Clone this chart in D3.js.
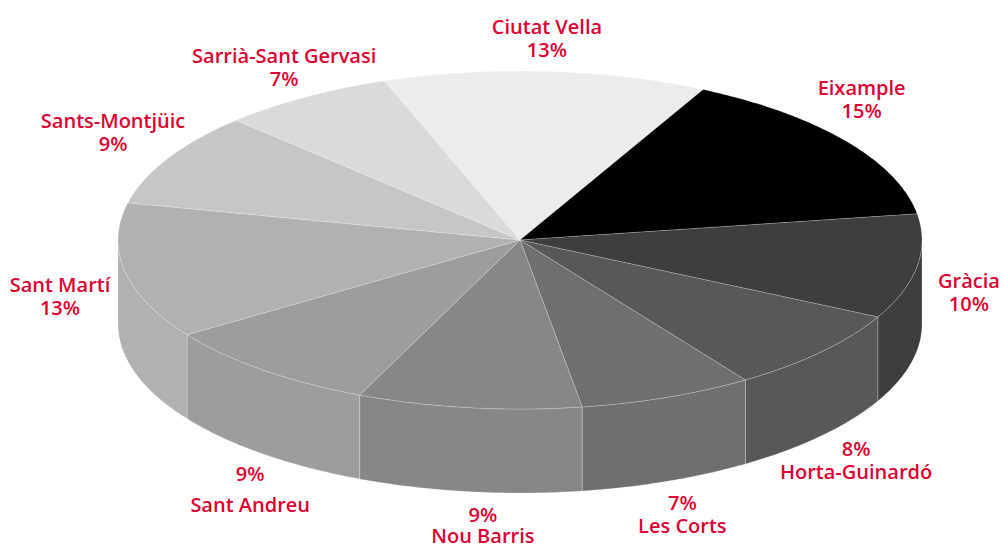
<!DOCTYPE html>
<html>
<head>
<meta charset="utf-8">
<script src="https://cdn.jsdelivr.net/npm/d3@7"></script>
<style>
  body { margin: 0; background: #fff; }
  .lbl { font-family: "Open Sans", sans-serif; font-weight: 600; font-size: 20px; fill: #dc0032; }
</style>
</head>
<body>
<svg id="chart"></svg>
<script>
// district shares (%)
var districts = ["Ciutat Vella", "Eixample", "Gràcia", "Horta-Guinardó", "Les Corts",
                 "Nou Barris", "Sant Andreu", "Sant Martí", "Sants-Montjüic", "Sarrià-Sant Gervasi"];
var shares = [13, 15, 10, 8, 7, 9, 9, 13, 9, 7];
var shades = ["#ebeceb", "#000000", "#3e3e40", "#58585a", "#6f6f71",
              "#87878a", "#9d9d9f", "#b1b1b3", "#c6c6c8", "#dadadb"];

// label nudges from the rim point at each slice's middle: [dx, dy, line gap]
var labelNudge = [[1, -37], [16, -46], [52, -63], [35, 20], [15, 29],
                  [14, 30, 21], [-13, 27, 31], [-65, -63], [-55, -30], [-21, -34]];

var width = 1003, height = 546;
var cx = 520, cy = 240, rx = 402, ry = 169, depth = 84;
var start = -19.7 * Math.PI / 180;

var svg = d3.select("#chart")
    .attr("width", width)
    .attr("height", height);

var pie = d3.pie()
    .sort(null)
    .value(function(d) { return d; })
    .startAngle(start)
    .endAngle(start + 2 * Math.PI);
var arcs = pie(shares);

var color = d3.scaleOrdinal().domain(districts).range(shades);
var line = d3.line();

// point on the tilted rim for pie angle t (clockwise from 12 o'clock)
function rim(t, dy) {
    return [cx + rx * Math.sin(t), cy - ry * Math.cos(t) + (dy || 0)];
}
function sample(a0, a1, dy) {
    var n = Math.max(2, Math.ceil((a1 - a0) / 0.01));
    return d3.range(n + 1).map(function(i) { return rim(a0 + (a1 - a0) * i / n, dy); });
}

// outer wall, only the front half is visible
var f0 = Math.PI / 2, f1 = 3 * Math.PI / 2;
svg.append("g")
    .selectAll("path")
    .data(arcs.filter(function(a) { return Math.min(a.endAngle, f1) > Math.max(a.startAngle, f0); }))
    .join("path")
    .attr("d", function(a) {
        var lo = Math.max(a.startAngle, f0), hi = Math.min(a.endAngle, f1);
        return line(sample(lo, hi, 0).concat(sample(lo, hi, depth).reverse())) + "Z";
    })
    .attr("fill", function(a) { return color(districts[a.index]); })
    .attr("stroke", "#fff")
    .attr("stroke-opacity", 0.3)
    .attr("stroke-width", 0.7);

// top face
svg.append("g")
    .selectAll("path")
    .data(arcs)
    .join("path")
    .attr("d", function(a) {
        return line([[cx, cy]].concat(sample(a.startAngle, a.endAngle, 0))) + "Z";
    })
    .attr("fill", function(a) { return color(districts[a.index]); })
    .attr("stroke", "#fff")
    .attr("stroke-opacity", 0.3)
    .attr("stroke-width", 0.7);

// labels: one text per line, percent first under the pie
var rows = [];
arcs.forEach(function(a) {
    var m = (a.startAngle + a.endAngle) / 2;
    var c = Math.cos(m);
    var p = rim(m, c < 0 ? depth : 0);
    var nd = labelNudge[a.index];
    var x = p[0] + nd[0], y = p[1] + nd[1], gap = nd[2] || 23;
    var name = districts[a.index], pct = a.data + "%";
    var pair = c < -0.3 ? [pct, name] : [name, pct];
    pair.forEach(function(t, i) { rows.push({text: t, x: x, y: y + i * gap}); });
});

svg.append("g")
    .selectAll("text")
    .data(rows)
    .join("text")
    .attr("class", "lbl")
    .attr("text-anchor", "middle")
    .attr("x", function(d) { return d.x; })
    .attr("y", function(d) { return d.y; })
    .text(function(d) { return d.text; });
</script>
</body>
</html>
